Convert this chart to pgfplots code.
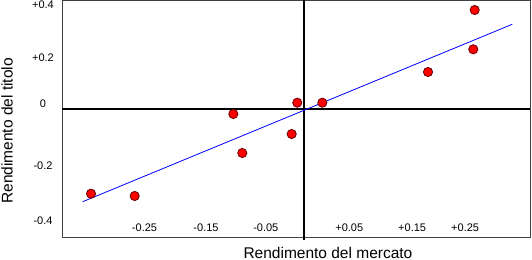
\documentclass[border=0pt]{standalone}
\usepackage{fontspec}
\setmainfont{Liberation Sans}
\usepackage{pgfplots}
\pgfplotsset{compat=1.18}
\begin{document}
\begin{tikzpicture}
\begin{axis}[
  at={(62.3bp,22.3bp)}, anchor=south west,
  scale only axis, width=467.7bp, height=237.2bp,
  xmin=-0.3758, xmax=0.3505, ymin=-0.4796, ymax=0.4022,
  axis line style={draw=black!75, line width=0.7bp},
  major tick length=0pt,
  xtick={-0.2481,-0.1526,-0.0598,0.0699,0.1675,0.2498},
  xticklabels={-0.25,-0.15,-0.05,+0.05,+0.15,+0.25},
  ytick={0.3855,0.191,0.0175,-0.213,-0.417},
  yticklabels={+0.4,+0.2,0,-0.2,-0.4},
  xticklabel style={anchor=center, yshift=10.2bp, font=\fontsize{11bp}{13bp}\selectfont},
  yticklabel style={anchor=center, xshift=-19.3bp, font=\fontsize{11bp}{13bp}\selectfont},
  xlabel={Rendimento del mercato},
  ylabel={Rendimento del titolo},
  xlabel style={at={(axis description cs:0.568,-0.0856)}, anchor=base, font=\fontsize{15.5bp}{18bp}\selectfont},
  ylabel style={at={(axis description cs:-0.106,0.45)}, anchor=base, font=\fontsize{15.5bp}{18bp}\selectfont},
  clip=false,
]
\draw[black, line width=1.7bp] (axis cs:0,-0.489) -- (axis cs:0,0.4022);
\draw[black, line width=1.7bp] (axis cs:-0.3758,0) -- (axis cs:0.3505,0);
\addplot[blue, line width=0.8bp] coordinates {(-0.3441,-0.3457) (0.3230,0.3138)};
\addplot[only marks, mark=*, mark size=4.6bp,
  mark options={fill=red, draw=black!60!red, line width=0.8bp}] coordinates {
  (-0.3312,-0.3160)
  (-0.2634,-0.3245)
  (-0.1102,-0.0197)
  (-0.0963,-0.1647)
  (-0.0109,0.0223)
  (0.0280,0.0223)
  (-0.0196,-0.0941)
  (0.1921,0.1364)
  (0.2624,0.2208)
  (0.2646,0.3669)
};
\end{axis}
\pgfresetboundingbox
\path (0,0) rectangle (532bp,260bp);
\end{tikzpicture}
\end{document}
